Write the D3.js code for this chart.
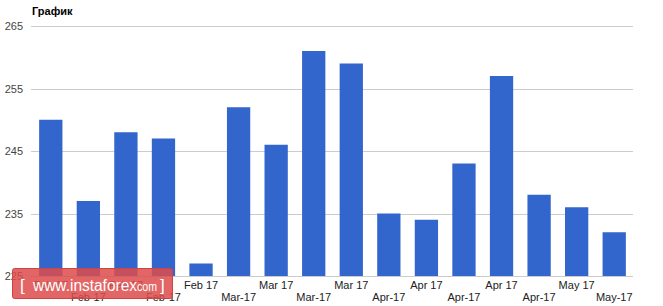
<!DOCTYPE html>
<html><head><meta charset="utf-8">
<script src="https://cdn.jsdelivr.net/npm/d3@7"></script>
<style>body{margin:0;background:#fff}svg{display:block}</style>
</head><body>
<script>
const categories = ["Feb 17","Feb-17","Feb 17","Feb-17","Feb 17","Mar-17","Mar 17","Mar-17","Mar 17","Apr-17","Apr 17","Apr-17","Apr 17","Apr-17","May 17","May-17"];
const values = [250,237,248,247,227,252,246,261,259,235,234,243,257,238,236,232];
const yTicks = [225,235,245,255,265];
const title = "График";

const W=663,H=306;
const svg=d3.select("body").append("svg").attr("width",W).attr("height",H);
const x=d3.scaleBand().domain(d3.range(categories.length)).range([32,633]).paddingInner(0.38).paddingOuter(0.19);
const y=d3.scaleLinear().domain([225,265]).range([276,26]);
const font="Arial, Liberation Sans, sans-serif";

svg.append("text").attr("x",32).attr("y",15).attr("font-family",font)
  .attr("font-size",11).attr("font-weight","bold").attr("fill","#000").text(title);

const ga=svg.append("g");
ga.selectAll("line").data(yTicks).join("line")
  .attr("x1",31).attr("x2",633).attr("y1",d=>Math.round(y(d))+0.5).attr("y2",d=>Math.round(y(d))+0.5)
  .attr("stroke","#cccccc").attr("stroke-width",1);
ga.selectAll("text").data(yTicks).join("text")
  .attr("x",23).attr("y",d=>y(d)+4).attr("text-anchor","end")
  .attr("font-family",font).attr("font-size",11).attr("fill","#444").text(d=>d);

svg.append("g").selectAll("rect").data(values).join("rect")
  .attr("x",(d,i)=>x(i)).attr("width",x.bandwidth())
  .attr("y",d=>y(d)).attr("height",d=>y(225)-y(d)).attr("fill","#3366cc");

svg.append("g").selectAll("text").data(categories).join("text")
  .attr("x",(d,i)=>x(i)+x.bandwidth()/2).attr("y",(d,i)=>i%2===0?289:301)
  .attr("text-anchor","middle").attr("font-family",font)
  .attr("font-size",11).attr("fill","#222").text(d=>d);

// watermark
const wm=svg.append("g");
wm.append("rect").attr("x",12.5).attr("y",268.5).attr("width",160).attr("height",30).attr("rx",2)
  .attr("fill","#dd4b4b").attr("fill-opacity",0.85).attr("stroke","#c44").attr("stroke-width",1);
wm.append("text").attr("x",20).attr("y",291).attr("font-family",font).attr("font-size",17).attr("fill","#fff").text("[");
wm.append("text").attr("x",33).attr("y",291).attr("font-family",font).attr("font-size",16).attr("fill","#fff")
  .attr("textLength",104).attr("lengthAdjust","spacingAndGlyphs").text("www.instaforex");
wm.append("text").attr("x",137).attr("y",291).attr("font-family",font).attr("font-size",12).attr("fill","#fff")
  .attr("textLength",20).attr("lengthAdjust","spacingAndGlyphs").text("com");
wm.append("text").attr("x",160).attr("y",291).attr("font-family",font).attr("font-size",17).attr("fill","#fff").text("]");
</script>
</body></html>
